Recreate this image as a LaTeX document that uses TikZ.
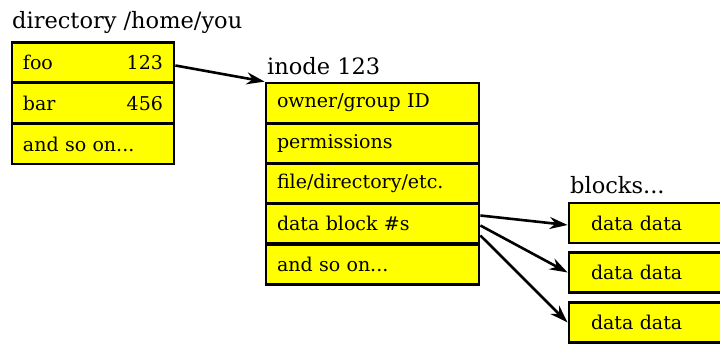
\documentclass[tikz,border=0pt]{standalone}
\usepackage{fontspec}
\setmainfont{DejaVu Serif}
\usetikzlibrary{arrows.meta}
\definecolor{boxyellow}{RGB}{255,255,0}
\tikzset{
  rowbox/.style={draw=black, fill=boxyellow, line width=2.8pt, minimum height=40pt,
    inner xsep=11pt, inner ysep=0pt, align=left, font=\fontsize{19}{20}\selectfont},
  titletext/.style={inner sep=0pt, anchor=base west, font=\fontsize{22.5}{24}\selectfont},
  link/.style={line width=2.6pt, -{Stealth[length=18pt,width=12pt]}}
}
\begin{document}
\begin{tikzpicture}[x=1pt,y=-1pt]
\clip (0,0) rectangle (720,343);
\fill[white] (0,0) rectangle (720,343);
% directory
\node[titletext] (dtitle) at (12,28) {directory /home/you};
\node[rowbox, text width=140pt] (foo) at (93,62.5) {foo\hfill 123\hspace{5pt}};
\node[rowbox, text width=140pt] (bar) at (93,103) {bar\hfill 456\hspace{5pt}};
\node[rowbox, text width=140pt] (dso) at (93,144) {and so on...};
% inode
\node[titletext] (ititle) at (267,74) {inode 123};
\node[rowbox, text width=191pt] (i1) at (372.5,103) {owner/group ID};
\node[rowbox, text width=191pt] (i2) at (372.5,143.5) {permissions};
\node[rowbox, text width=191pt] (i3) at (372.5,183.5) {file/directory/etc.};
\node[rowbox, text width=191pt] (ib) at (372.5,223.5) {data block \#s};
\node[rowbox, text width=191pt] (i5) at (372.5,264.5) {and so on...};
% blocks
\node[titletext] (btitle) at (570,193) {blocks...};
\node[rowbox, text width=150pt, inner xsep=22pt] (b1) at (666,223) {data data};
\node[rowbox, text width=150pt, inner xsep=22pt] (b2) at (666,272.5) {data data};
\node[rowbox, text width=150pt, inner xsep=22pt] (b3) at (666,322.5) {data data};
% arrows
\draw[link] ([yshift=-3pt]foo.east) -- (i1.north west);
\draw[link] ([yshift=8pt]ib.east) -- ([yshift=-2pt]b1.west);
\draw[link] ([yshift=-2pt]ib.east) -- ([yshift=0pt]b2.west);
\draw[link] ([yshift=-12pt]ib.east) -- ([yshift=0pt]b3.west);
\end{tikzpicture}
\end{document}
